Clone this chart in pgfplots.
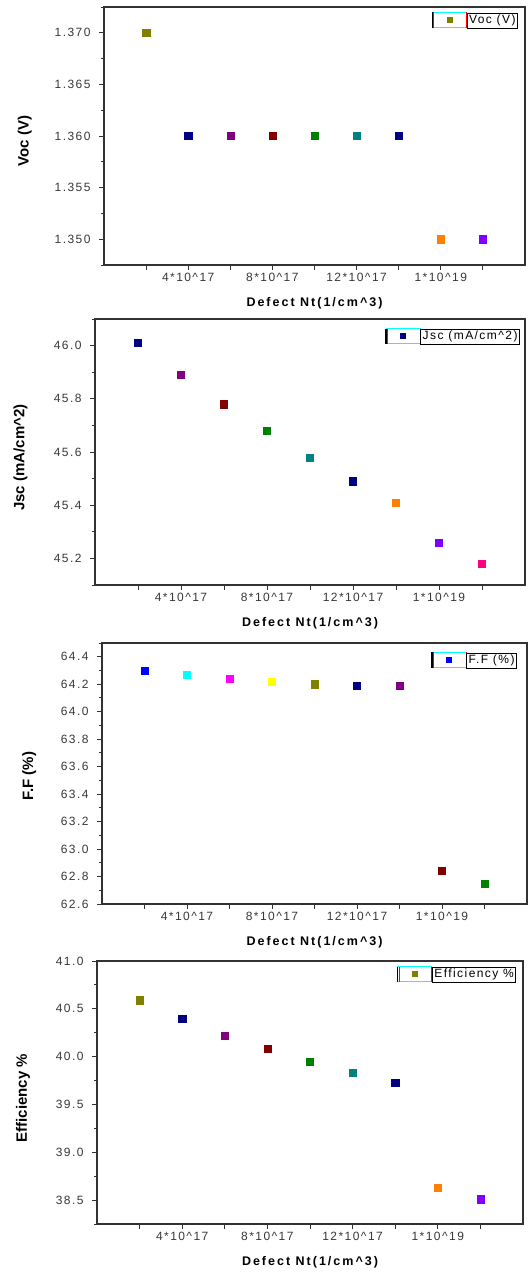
\documentclass[border=0pt]{standalone}
\usepackage{pgfplots}
\pgfplotsset{compat=1.18}
\usepackage{fontspec}
\setmainfont{Liberation Sans}
\newfontfamily\tickfont[LetterSpace=12]{Liberation Sans}
\newfontfamily\xlabfont[LetterSpace=16]{Liberation Sans}
\setlength{\fboxsep}{1.5pt}
\setlength{\fboxrule}{0.8pt}

% Origin-style marker palette
\definecolor{cOlive}{RGB}{128,128,0}
\definecolor{cNavy}{RGB}{0,0,128}
\definecolor{cPurple}{RGB}{128,0,128}
\definecolor{cMaroon}{RGB}{128,0,0}
\definecolor{cGreen}{RGB}{0,128,0}
\definecolor{cTeal}{RGB}{0,128,128}
\definecolor{cOrange}{RGB}{255,128,0}
\definecolor{cViolet}{RGB}{128,0,255}
\definecolor{cPink}{RGB}{255,0,128}
\definecolor{cBlue}{RGB}{0,0,255}
\definecolor{cCyan}{RGB}{0,255,255}
\definecolor{cMagenta}{RGB}{255,0,255}
\definecolor{cYellow}{RGB}{255,255,0}
\definecolor{axisgray}{RGB}{50,50,50}
\definecolor{tickgray}{RGB}{55,55,55}

\newcommand{\legtext}[1]{\fbox{\rule[-2.8pt]{0pt}{10.5pt}#1}}

\pgfplotsset{
  defectaxis/.style={
    scale only axis,
    xmin=0, xmax=10,
    axis line style={draw=axisgray, line width=1.1pt},
    every tick/.style={draw=axisgray, line width=0.9pt},
    tick align=outside, xtick pos=left, ytick pos=left,
    major tick length=5pt, minor tick length=3.5pt,
    minor y tick num=1,
    xtick={1,2,3,4,5,6,7,8,9},
    xticklabels={,4*10\textasciicircum 17,,8*10\textasciicircum 17,,12*10\textasciicircum 17,,1*10\textasciicircum 19,},
    ticklabel style={font=\tickfont\fontsize{12}{12}\selectfont, text=tickgray},
    yticklabel style={xshift=-5pt},
    /pgf/number format/assume math mode=true,
    xlabel={Defect Nt(1/cm\textasciicircum 3)},
    xlabel style={font=\xlabfont\bfseries\fontsize{12.5}{13}\selectfont,
      at={(axis description cs:0.5,0)}, anchor=center, yshift=-38pt},
    ylabel style={font=\bfseries\fontsize{15}{16}\selectfont, anchor=center},
    legend style={anchor=north east, draw=none, fill=none, inner sep=0pt,
      outer sep=0pt, row sep=0pt, column sep=0pt,
      nodes={inner sep=0pt, outer sep=0pt},
      font=\tickfont\fontsize{12}{12}\selectfont},
    legend image code/.code={
      \draw[cCyan, line width=0.8pt] (0pt,-8.7pt) rectangle (34pt,6.4pt);
      \draw[red, line width=0.8pt] (1.4pt,-8.7pt) -- (1.4pt,6.4pt)
                                   (34pt,-8.7pt) -- (34pt,6.4pt);
      \draw[black, line width=1.2pt] (0pt,-8.7pt) -- (0pt,6.4pt);
      \draw[mark size=2.5pt] plot coordinates {(17pt,-0.6pt)};
    },
  },
  pt/.style={only marks, mark=square*, mark size=3.6pt, color=#1},
}

\begin{document}
\begin{tikzpicture}
\path[use as bounding box] (0pt,0pt) rectangle (528pt,1274pt);

% ---------------- Voc ----------------
\begin{axis}[defectaxis,
  at={(104pt,1009pt)}, anchor=south west, width=421pt, height=258pt,
  ymin=1.3475, ymax=1.3725, ytick distance=0.005,
  yticklabel style={/pgf/number format/.cd, fixed, fixed zerofill, precision=3},
  ylabel={Voc (V)},
  ylabel style={at={(axis description cs:-0.188,0.481)}},
  legend style={at={(axis description cs:0.983,0.981)}},
]
\addplot[pt=cOlive]  coordinates {(1,1.370)};
\addplot[pt=cNavy]   coordinates {(2,1.360)};
\addplot[pt=cPurple] coordinates {(3,1.360)};
\addplot[pt=cMaroon] coordinates {(4,1.360)};
\addplot[pt=cGreen]  coordinates {(5,1.360)};
\addplot[pt=cTeal]   coordinates {(6,1.360)};
\addplot[pt=cNavy]   coordinates {(7,1.360)};
\addplot[pt=cOrange] coordinates {(8,1.350)};
\addplot[pt=cViolet] coordinates {(9,1.350)};
\legend{\legtext{Voc (V)}}
\end{axis}

% ---------------- Jsc ----------------
\begin{axis}[defectaxis,
  at={(95pt,689pt)}, anchor=south west, width=430pt, height=266pt,
  ymin=45.1, ymax=46.1, ytick distance=0.2,
  yticklabel style={/pgf/number format/.cd, fixed, fixed zerofill, precision=1},
  ylabel={Jsc (mA/cm\textasciicircum 2)},
  ylabel style={at={(axis description cs:-0.173,0.479)}},
  legend style={at={(axis description cs:0.988,0.966)}},
]
\addplot[pt=cNavy]   coordinates {(1,46.01)};
\addplot[pt=cPurple] coordinates {(2,45.89)};
\addplot[pt=cMaroon] coordinates {(3,45.78)};
\addplot[pt=cGreen]  coordinates {(4,45.68)};
\addplot[pt=cTeal]   coordinates {(5,45.58)};
\addplot[pt=cNavy]   coordinates {(6,45.49)};
\addplot[pt=cOrange] coordinates {(7,45.41)};
\addplot[pt=cViolet] coordinates {(8,45.26)};
\addplot[pt=cPink]   coordinates {(9,45.18)};
\legend{\legtext{Jsc (mA/cm\textasciicircum 2)}}
\end{axis}

% ---------------- F.F ----------------
\begin{axis}[defectaxis,
  at={(102pt,370pt)}, anchor=south west, width=425pt, height=261pt,
  ymin=62.6, ymax=64.5, ytick distance=0.2,
  yticklabel style={/pgf/number format/.cd, fixed, fixed zerofill, precision=1},
  ylabel={F.F (\%)},
  ylabel style={at={(axis description cs:-0.171,0.49)}},
  legend style={at={(axis description cs:0.976,0.966)}},
]
\addplot[pt=cBlue]    coordinates {(1,64.30)};
\addplot[pt=cCyan]    coordinates {(2,64.27)};
\addplot[pt=cMagenta] coordinates {(3,64.24)};
\addplot[pt=cYellow]  coordinates {(4,64.22)};
\addplot[pt=cOlive]   coordinates {(5,64.20)};
\addplot[pt=cNavy]    coordinates {(6,64.19)};
\addplot[pt=cPurple]  coordinates {(7,64.19)};
\addplot[pt=cMaroon]  coordinates {(8,62.84)};
\addplot[pt=cGreen]   coordinates {(9,62.75)};
\legend{\legtext{F.F (\%)}}
\end{axis}

% ---------------- Efficiency ----------------
\begin{axis}[defectaxis,
  at={(97pt,50pt)}, anchor=south west, width=426pt, height=263pt,
  ymin=38.25, ymax=41.0, ytick distance=0.5,
  yticklabel style={/pgf/number format/.cd, fixed, fixed zerofill, precision=1},
  ylabel={Efficiency \%},
  ylabel style={at={(axis description cs:-0.174,0.479)}},
  legend style={at={(axis description cs:0.984,0.981)}},
]
\addplot[pt=cOlive]  coordinates {(1,40.59)};
\addplot[pt=cNavy]   coordinates {(2,40.40)};
\addplot[pt=cPurple] coordinates {(3,40.22)};
\addplot[pt=cMaroon] coordinates {(4,40.08)};
\addplot[pt=cGreen]  coordinates {(5,39.95)};
\addplot[pt=cTeal]   coordinates {(6,39.83)};
\addplot[pt=cNavy]   coordinates {(7,39.73)};
\addplot[pt=cOrange] coordinates {(8,38.63)};
\addplot[pt=cViolet] coordinates {(9,38.51)};
\legend{\legtext{Efficiency \%}}
\end{axis}
\end{tikzpicture}
\end{document}
